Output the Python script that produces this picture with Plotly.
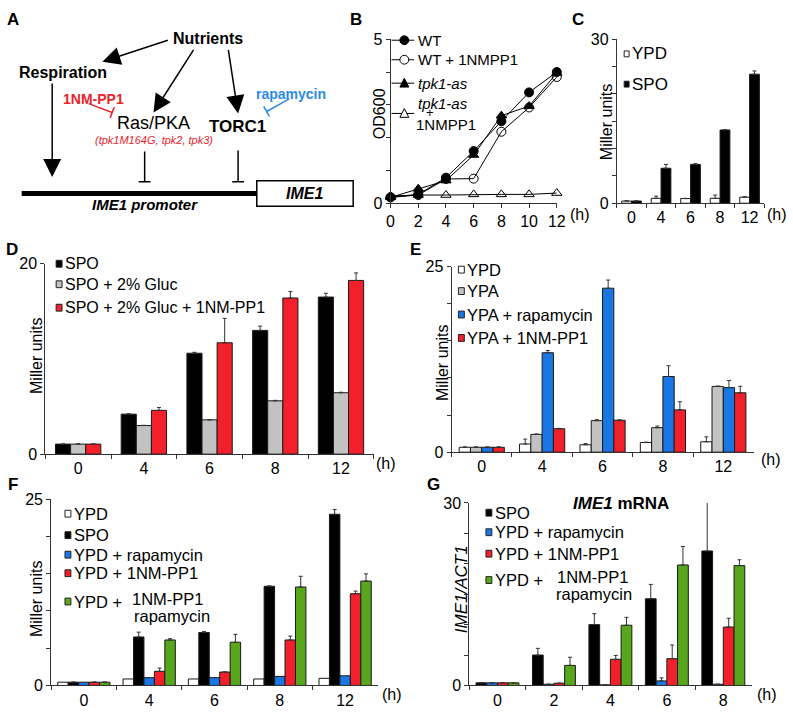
import math
import plotly.graph_objects as go

W, H = 793, 714
FONT = 'Arial, Liberation Sans, sans-serif'

BLACK = '#000000'
GRAY = '#c2c2c2'
RED = '#f2202a'
BLUE = '#1976e3'
GREEN = '#58a61c'
WHITE = '#ffffff'
TXT_RED = '#e8242c'
TXT_BLUE = '#2a8be6'

#----- DATA ---------------------------------------------------------------------
# B: growth curves (OD600)
hours_b = [0, 2, 4, 6, 8, 10, 12]
od_wt = [0.18, 0.27, 0.78, 1.59, 2.50, 3.38, 4.00]
od_wt_nm = [0.18, 0.25, 0.74, 0.75, 2.18, 2.92, 3.85]
od_tpk = [0.18, 0.44, 0.69, 1.47, 2.67, 2.96, 3.97]
od_tpk_nm = [0.22, 0.25, 0.25, 0.27, 0.27, 0.27, 0.31]

# C
times_c = ['0', '4', '6', '8', '12']
c_ypd = [0.4, 0.9, 0.85, 0.9, 1.1]
c_ypd_err = [0.05, 0.4, 0.05, 0.6, 0.1]
c_spo = [0.4, 6.4, 7.1, 13.4, 23.6]
c_spo_err = [0.05, 0.7, 0.15, 0.05, 0.6]

# D
times_d = ['0', '4', '6', '8', '12']
d_spo = [1.05, 4.2, 10.6, 13.0, 16.5]
d_spo_err = [0.02, 0.05, 0.1, 0.45, 0.4]
d_gluc = [1.05, 3.0, 3.6, 5.6, 6.45]
d_gluc_err = [0.02, 0.03, 0.03, 0.05, 0.05]
d_nm = [1.05, 4.6, 11.7, 16.4, 18.25]
d_nm_err = [0.02, 0.3, 2.56, 0.68, 0.79]

# E
times_e = ['0', '4', '6', '8', '12']
e_ypd = [0.66, 1.1, 1.0, 1.3, 1.4]
e_ypd_err = [0.05, 0.66, 0.15, 0.05, 0.66]
e_ypa = [0.66, 2.4, 4.25, 3.3, 8.86]
e_ypa_err = [0.05, 0.05, 0.13, 0.22, 0.05]
e_rapa = [0.66, 13.4, 22.1, 10.2, 8.7]
e_rapa_err = [0.05, 0.3, 1.1, 1.45, 0.96]
e_nm = [0.66, 3.16, 4.3, 5.7, 8.0]
e_nm_err = [0.05, 0.05, 0.05, 1.1, 0.88]

# F
times_f = ['0', '4', '6', '8', '12']
f_ypd = [0.44, 0.87, 0.87, 0.87, 0.96]
f_spo = [0.44, 6.5, 7.1, 13.3, 22.95]
f_spo_err = [0.02, 0.65, 0.13, 0.05, 0.65]
f_rapa = [0.44, 1.05, 1.05, 1.22, 1.3]
f_nm = [0.44, 1.9, 1.8, 6.1, 12.3]
f_nm_err = [0.02, 0.43, 0.02, 0.52, 0.35]
f_both = [0.44, 6.1, 5.8, 13.2, 14.0]
f_both_err = [0.02, 0.17, 1.05, 1.44, 0.96]

# G
times_g = ['0', '2', '4', '6', '8']
g_spo = [0.43, 5.0, 10.0, 14.25, 22.1]
g_spo_err = [0.02, 1.1, 1.8, 2.36, 8.0]
g_rapa = [0.43, 0.2, 0.1, 0.75, 0.2]
g_rapa_err = [0.0, 0.0, 0.0, 0.5, 0.0]
g_nm = [0.43, 0.37, 4.3, 4.4, 9.6]
g_nm_err = [0.02, 0.0, 0.64, 2.25, 1.45]
g_both = [0.43, 3.3, 9.9, 19.8, 19.7]
g_both_err = [0.02, 1.34, 1.3, 3.05, 0.96]


#----- HELPERS ------------------------------------------------------------------
def px(x):
    return x / W


def py(y):
    return 1 - y / H


fig = go.Figure()
shapes = []
annots = []


def text(x, y, s, size=16, color=BLACK, anchor='center', angle=0):
    annots.append(dict(
        text=s, x=px(x), y=py(y), xref='paper', yref='paper',
        xanchor=anchor, yanchor='middle', showarrow=False, textangle=angle,
        font=dict(family=FONT, size=size, color=color),
    ))


def line(x0, y0, x1, y1, color=BLACK, width=1.5):
    shapes.append(dict(type='line', xref='paper', yref='paper',
                       x0=px(x0), y0=py(y0), x1=px(x1), y1=py(y1),
                       line=dict(color=color, width=width)))


def arrow(xt, yt, xs, ys):
    annots.append(dict(
        text='', x=px(xt), y=py(yt), xref='paper', yref='paper',
        ax=xs - xt, ay=ys - yt, showarrow=True,
        arrowhead=2, arrowsize=2.4, arrowwidth=1.5, arrowcolor=BLACK,
    ))


def inhibit(xs, ys, xt, yt, color=BLACK, half=6):
    line(xs, ys, xt, yt, color)
    dx, dy = xt - xs, yt - ys
    n = math.hypot(dx, dy)
    ux, uy = -dy / n, dx / n
    line(xt - ux * half, yt - uy * half, xt + ux * half, yt + uy * half, color)


def key(x, y, color, label, size=16.5, w=6, h=7):
    shapes.append(dict(type='rect', xref='paper', yref='paper',
                       x0=px(x - w / 2), x1=px(x + w / 2),
                       y0=py(y + h / 2), y1=py(y - h / 2),
                       fillcolor=color, line=dict(color='#222', width=1)))
    if label:
        text(x + w / 2 + 1, y, label, size=size, anchor='left')


def axes(n, xdom, ydom, yrange, ystep, ylabels, xcat=True, xrange=None):
    sx = '' if n == 1 else str(n)
    xa = dict(
        domain=[px(xdom[0]), px(xdom[1])], anchor='y' + sx,
        showline=True, linecolor='#333', linewidth=1,
        ticks='outside', ticklen=4, tickcolor='#333',
        showgrid=False, zeroline=False,
        tickfont=dict(family=FONT, size=16, color=BLACK),
    )
    if xcat:
        xa.update(type='category', range=[-0.5, 4.5], tickson='boundaries')
    else:
        xa.update(range=xrange, tickvals=hours_b)
    vals = list(range(int(yrange[0]), int(yrange[1]) + 1, ystep))
    ya = dict(
        domain=[py(ydom[0]), py(ydom[1])], anchor='x' + sx,
        range=yrange, showline=True, linecolor='#333', linewidth=1,
        ticks='outside', ticklen=4, tickcolor='#333',
        tickvals=vals,
        ticktext=[str(v) if v in ylabels else '' for v in vals],
        showgrid=False, zeroline=False,
        tickfont=dict(family=FONT, size=16, color=BLACK),
    )
    fig.update_layout(**{'xaxis' + sx: xa, 'yaxis' + sx: ya})


def bars(n, cats, series, w):
    sx = '' if n == 1 else str(n)
    k = len(series)
    for i, (vals, errs, color) in enumerate(series):
        fig.add_trace(go.Bar(
            x=cats, y=vals, width=w, offset=-k * w / 2 + i * w,
            marker=dict(color=color, line=dict(color='#1a1a1a', width=1)),
            error_y=dict(type='data', array=errs, arrayminus=[0] * len(vals),
                         symmetric=False, color='#333', thickness=1, width=2)
            if errs is not None else None,
            xaxis='x' + sx, yaxis='y' + sx, showlegend=False,
        ))


#----- A: DIAGRAM ---------------------------------------------------------------
text(9, 12, '<b>A</b>', size=17)
text(207, 31, '<b>Nutrients</b>', size=16)
text(60, 66, '<b>Respiration</b>', size=16)
text(91, 93, '<b>1NM-PP1</b>', size=14, color=TXT_RED)
text(152, 118, 'Ras/PKA', size=18)
text(152, 135, '<i>(tpk1M164G, tpk2, tpk3)</i>', size=11, color=TXT_RED)
text(237, 121, '<b>TORC1</b>', size=17)
text(292, 88, '<b>rapamycin</b>', size=14, color=TXT_BLUE)
arrow(100, 55, 167, 33)
arrow(152, 107, 193, 43)
arrow(238, 108, 228, 43)
arrow(49, 173, 49, 78)
inhibit(86, 98, 110, 107, TXT_RED)
inhibit(290, 93, 267, 106, TXT_BLUE)
inhibit(143, 147, 143, 178)
inhibit(238, 146, 238, 178)
line(18, 190, 257, 190, width=5)
shapes.append(dict(type='rect', xref='paper', yref='paper',
                   x0=px(257), x1=px(355), y0=py(203), y1=py(177),
                   line=dict(color=BLACK, width=1.5), fillcolor=WHITE))
text(306, 190, '<b><i>IME1</i></b>', size=16)
text(143, 201, '<b><i>IME1 promoter</i></b>', size=15)

#----- B: GROWTH ----------------------------------------------------------------
text(358, 12, '<b>B</b>', size=17)
axes(1, (393, 562), (200, 32), [0, 5], 1, [0, 5], xcat=False, xrange=[0, 12])
b_series = [
    ('WT', od_wt, 'circle'),
    ('WT + 1NMPP1', od_wt_nm, 'circle-open'),
    ('<i>tpk1-as</i>', od_tpk, 'triangle-up'),
    ('tpk1-as + 1NMPP1', od_tpk_nm, 'triangle-up-open'),
]
for name, vals, sym in b_series:
    fig.add_trace(go.Scatter(
        x=hours_b, y=vals, mode='lines+markers', name=name,
        line=dict(color=BLACK, width=1),
        marker=dict(symbol=sym, size=9, color=BLACK,
                    line=dict(color=BLACK, width=1)),
        cliponaxis=False, showlegend=False,
    ))
text(382, 108, 'OD600', size=16, angle=-90)
text(573, 212, '(h)', size=16, anchor='left')


def b_key(y, sym, filled):
    line(394, y, 417, y, width=1)
    if sym == 'circle':
        shapes.append(dict(type='circle', xref='paper', yref='paper',
                           x0=px(402.5), x1=px(411.5), y0=py(y + 4.5), y1=py(y - 4.5),
                           fillcolor=BLACK if filled else WHITE,
                           line=dict(color=BLACK, width=1)))
    else:
        path = 'M{},{} L{},{} L{},{} Z'.format(
            px(402.5), py(y + 4), px(411.5), py(y + 4), px(407), py(y - 5))
        shapes.append(dict(type='path', xref='paper', yref='paper', path=path,
                           fillcolor=BLACK if filled else WHITE,
                           line=dict(color=BLACK, width=1)))


b_key(33, 'circle', True)
text(419, 33, 'WT', size=15, anchor='left')
b_key(53, 'circle', False)
text(419, 53, 'WT + 1NMPP1', size=15, anchor='left')
b_key(77, 'triangle', True)
text(419, 77, '<i>tpk1-as</i>', size=15, anchor='left')
b_key(108, 'triangle', False)
text(419, 98, '<i>tpk1-as</i>', size=15, anchor='left')
text(433, 107, '+', size=13)
text(417, 119, '1NMPP1', size=15, anchor='left')

#----- C ------------------------------------------------------------------------
text(584, 12, '<b>C</b>', size=17)
axes(2, (623, 773), (200, 32), [0, 30], 5, [0, 30])
bars(2, times_c, [(c_ypd, c_ypd_err, WHITE), (c_spo, c_spo_err, BLACK)], 0.333)
text(612, 117, 'Miller units', size=16, angle=-90)
text(774, 212, '(h)', size=16, anchor='left')
key(633, 47, WHITE, 'YPD', size=17, w=5, h=6)
key(633, 78, BLACK, 'SPO', size=17, w=5, h=6)

#----- D ------------------------------------------------------------------------
text(8, 247, '<b>D</b>', size=17)
axes(3, (42, 376), (457, 262), [0, 20], 20, [0, 20])
bars(3, times_d, [(d_spo, d_spo_err, BLACK), (d_gluc, d_gluc_err, GRAY),
                  (d_nm, d_nm_err, RED)], 0.23)
text(33, 356, 'Miller units', size=16, angle=-90)
text(376, 467, '(h)', size=16, anchor='left')
key(56, 262, BLACK, 'SPO', size=16)
key(56, 283, GRAY, 'SPO + 2% Gluc', size=16)
key(56, 307, RED, 'SPO + 2% Gluc + 1NM-PP1', size=16)

#----- E ------------------------------------------------------------------------
text(418, 247, '<b>E</b>', size=17)
axes(4, (455, 762), (455, 265), [0, 25], 5, [0, 25])
bars(4, times_e, [(e_ypd, e_ypd_err, WHITE), (e_ypa, e_ypa_err, GRAY),
                  (e_rapa, e_rapa_err, BLUE), (e_nm, e_nm_err, RED)], 0.187)
text(446, 364, 'Miller units', size=16, angle=-90)
text(768, 463, '(h)', size=16, anchor='left')
key(465, 268, WHITE, 'YPD')
key(465, 290, GRAY, 'YPA')
key(465, 314, BLUE, 'YPA + rapamycin')
key(465, 338, RED, 'YPA + 1NM-PP1')

#----- F ------------------------------------------------------------------------
text(9, 488, '<b>F</b>', size=17)
axes(5, (48, 380), (694, 503), [0, 25], 5, [0, 25])
bars(5, times_f, [(f_ypd, None, WHITE), (f_spo, f_spo_err, BLACK),
                  (f_rapa, None, BLUE), (f_nm, f_nm_err, RED),
                  (f_both, f_both_err, GREEN)], 0.16)
text(33, 605, 'Miller units', size=16, angle=-90)
text(382, 703, '(h)', size=16, anchor='left')
key(65, 518, WHITE, 'YPD')
key(65, 540, BLACK, 'SPO')
key(65, 560, BLUE, 'YPD + rapamycin')
key(65, 579, RED, 'YPD + 1NM-PP1')
key(65, 608, GREEN, 'YPD +')
text(128, 605, '1NM-PP1', size=16.5, anchor='left')
text(130, 623, 'rapamycin', size=16.5, anchor='left')

#----- G ------------------------------------------------------------------------
text(437, 488, '<b>G</b>', size=17)
axes(6, (473, 760), (694, 507), [0, 30], 5, [0, 30])
bars(6, times_g, [(g_spo, g_spo_err, BLACK), (g_rapa, g_rapa_err, BLUE),
                  (g_nm, g_nm_err, RED), (g_both, g_both_err, GREEN)], 0.19)
text(465, 595, '<i>IME1/ACT1</i>', size=17, angle=-90)
text(627, 508, '<b><i>IME1</i> mRNA</b>', size=17)
text(764, 703, '(h)', size=16, anchor='left')
key(493, 517, BLACK, 'SPO')
key(493, 537, BLUE, 'YPD + rapamycin')
key(493, 559, RED, 'YPD + 1NM-PP1')
key(493, 586, GREEN, 'YPD +')
text(560, 583, '1NM-PP1', size=16.5, anchor='left')
text(559, 600, 'rapamycin', size=16.5, anchor='left')

fig.update_layout(
    width=W, height=H,
    margin=dict(l=0, r=0, t=0, b=0),
    paper_bgcolor=WHITE, plot_bgcolor=WHITE,
    barmode='overlay',
    font=dict(family=FONT, size=16, color=BLACK),
    shapes=shapes, annotations=annots,
    showlegend=False,
)
# the page body has a default 8px margin: drop it so the figure fills the window
fig.write_html('out.html',
               config={'displayModeBar': False},
               post_script="document.body.style.margin='0px';")
